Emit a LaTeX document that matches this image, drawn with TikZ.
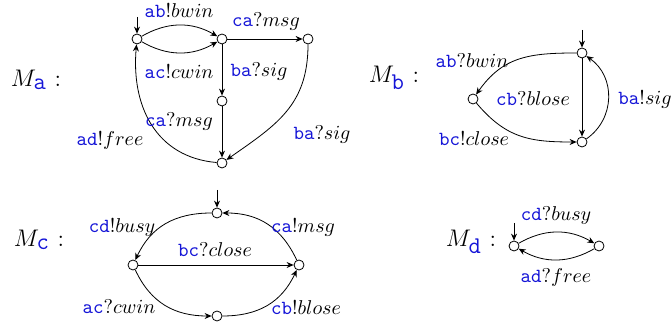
\documentclass[tikz,border=0pt]{standalone}
\usetikzlibrary{arrows.meta}
\definecolor{chan}{RGB}{20,20,215}
\newcommand{\ch}[1]{\texttt{\textcolor{chan}{#1}}}
\tikzset{
  st/.style={circle,draw,fill=white,inner sep=0pt,minimum size=5pt},
  tr/.style={-{Stealth[length=3.5pt,width=3pt]},line width=0.4pt},
  lbl/.style={inner sep=0pt,font=\normalsize},
  mname/.style={inner sep=0pt,font=\large}
}
\begin{document}
\begin{tikzpicture}[x=0.5pt,y=-0.5pt]
\useasboundingbox (0,0) rectangle (672,324);
% ---------- M_a ----------
\node[mname] (Ma) at (36,80) {$M_{\ch{a}}$ :};
\node[st] (a0) at (137,39) {};
\node[st] (a1) at (222,39) {};
\node[st] (a2) at (308,39) {};
\node[st] (a3) at (222,101) {};
\node[st] (a4) at (222,163) {};
\coordinate (a0i) at (137,17);
\draw[tr] (a0i) -- (a0);
\draw[tr] (a0) to[bend left=30] (a1);
\draw[tr] (a0) to[bend right=30] (a1);
\draw[tr] (a1) -- (a2);
\draw[tr] (a1) -- (a3);
\draw[tr] (a3) -- (a4);
\draw[tr] (a2) to[out=-90,in=35,looseness=1.1] (a4);
\draw[tr] (a4) to[out=175,in=-95,looseness=1.1] (a0);
\node[lbl] (la1) at (179,10) {\ch{ab}!$bwin$};
\node[lbl] (la2) at (179,71) {\ch{ac}!$cwin$};
\node[lbl] (la3) at (266,21) {\ch{ca}?$msg$};
\node[lbl] (la4) at (259,71) {\ch{ba}?$sig$};
\node[lbl] (la5) at (179,121) {\ch{ca}?$msg$};
\node[lbl] (la6) at (110,140) {\ch{ad}!$free$};
\node[lbl] (la7) at (322,134) {\ch{ba}?$sig$};
% ---------- M_b ----------
\node[mname] (Mb) at (394,78) {$M_{\ch{b}}$ :};
\node[st] (b0) at (582,53) {};
\node[st] (b1) at (473,99) {};
\node[st] (b2) at (582,142) {};
\coordinate (b0i) at (582,30);
\draw[tr] (b0i) -- (b0);
\draw[tr] (b0) to[out=180,in=55,looseness=1.1] (b1);
\draw[tr] (b1) to[out=-50,in=180,looseness=1.1] (b2);
\draw[tr] (b0) -- (b2);
\draw[tr] (b2) to[out=35,in=-35,looseness=1.1] (b0);
\node[lbl] (lb1) at (472,61) {\ch{ab}?$bwin$};
\node[lbl] (lb2) at (533,99) {\ch{cb}?$blose$};
\node[lbl] (lb3) at (645,99) {\ch{ba}!$sig$};
\node[lbl] (lb4) at (474,138) {\ch{bc}!$close$};
% ---------- M_c ----------
\node[mname] (Mc) at (39,240) {$M_{\ch{c}}$ :};
\node[st] (c0) at (217,213) {};
\node[st] (c1) at (133,265) {};
\node[st] (c2) at (299,265) {};
\node[st] (c3) at (217,316) {};
\coordinate (c0i) at (217,190);
\draw[tr] (c0i) -- (c0);
\draw[tr] (c0) to[out=180,in=65,looseness=1.05] (c1);
\draw[tr] (c2) to[out=115,in=0,looseness=1.05] (c0);
\draw[tr] (c1) -- (c2);
\draw[tr] (c1) to[out=-65,in=180,looseness=1.05] (c3);
\draw[tr] (c3) to[out=0,in=-115,looseness=1.05] (c2);
\node[lbl] (lc1) at (122,227) {\ch{cd}!$busy$};
\node[lbl] (lc2) at (303,227) {\ch{ca}!$msg$};
\node[lbl] (lc3) at (215,250) {\ch{bc}?$close$};
\node[lbl] (lc4) at (119,307) {\ch{ac}?$cwin$};
\node[lbl] (lc5) at (306,307) {\ch{cb}!$blose$};
% ---------- M_d ----------
\node[mname] (Md) at (471,242) {$M_{\ch{d}}$ :};
\node[st] (d0) at (514,246) {};
\node[st] (d1) at (599,246) {};
\coordinate (d0i) at (514,223);
\draw[tr] (d0i) -- (d0);
\draw[tr] (d0) to[bend left=30] (d1);
\draw[tr] (d1) to[bend left=30] (d0);
\node[lbl] (ld1) at (556,215) {\ch{cd}?$busy$};
\node[lbl] (ld2) at (556,277) {\ch{ad}?$free$};
\end{tikzpicture}
\end{document}
